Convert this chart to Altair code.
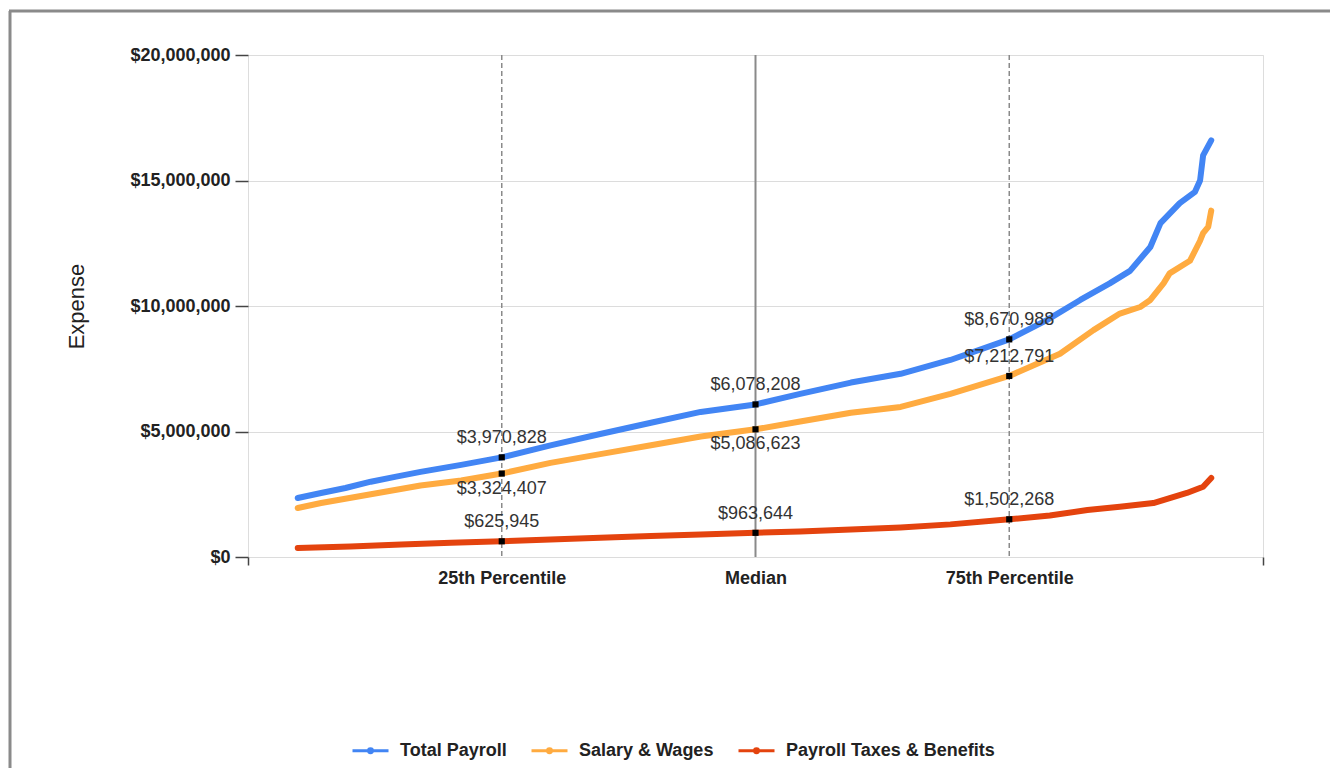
import altair as alt
import pandas as pd

# ---- data ----
series_names = ["Total Payroll", "Salary & Wages", "Payroll Taxes & Benefits"]
series_colors = ["#4285F4", "#FFAB40", "#E4430E"]

total_pct = [4.9, 7.2, 9.6, 12.1, 14.6, 17.0, 21.0, 25.0, 29.8, 34.7, 39.7, 44.6, 50.0,
             54.4, 59.4, 64.3, 69.2, 75.0, 78.7, 82.0, 84.9, 86.9, 88.9, 89.9, 91.8,
             93.3, 93.8, 94.1, 94.9]
total_val = [2350000, 2550000, 2750000, 3000000, 3200000, 3390000, 3670000, 3970828,
             4450000, 4900000, 5350000, 5780000, 6078208, 6500000, 6950000, 7300000,
             7850000, 8670988, 9440000, 10240000, 10900000, 11400000, 12350000,
             13300000, 14100000, 14550000, 15000000, 16000000, 16600000]

salary_pct = [4.9, 7.2, 12.1, 17.0, 21.0, 25.0, 29.8, 34.7, 39.7, 44.6, 50.0, 54.4,
              59.4, 64.3, 69.2, 75.0, 80.0, 83.3, 85.9, 87.9, 88.9, 90.2, 90.8, 92.8,
              93.8, 94.1, 94.6, 94.9]
salary_val = [1950000, 2150000, 2500000, 2850000, 3050000, 3324407, 3750000, 4100000,
              4450000, 4800000, 5086623, 5400000, 5750000, 5980000, 6500000, 7212791,
              8100000, 9040000, 9700000, 9960000, 10240000, 10900000, 11300000,
              11800000, 12600000, 12900000, 13150000, 13800000]

taxes_pct = [4.9, 10.1, 15.1, 20.0, 25.0, 29.8, 34.7, 39.7, 44.6, 50.0, 54.4, 59.4,
             64.3, 69.2, 75.0, 79.0, 82.7, 85.9, 89.2, 92.5, 94.1, 94.9]
taxes_val = [360000, 420000, 500000, 570000, 625945, 700000, 770000, 840000, 900000,
             963644, 1020000, 1100000, 1180000, 1300000, 1502268, 1650000, 1870000,
             2000000, 2150000, 2550000, 2800000, 3150000]

marker_pct = [25, 50, 75]
marker_labels = ["25th Percentile", "Median", "75th Percentile"]

ann_pct = [25, 25, 25, 50, 50, 50, 75, 75, 75]
ann_val = [3970828, 3324407, 625945, 6078208, 5086623, 963644, 8670988, 7212791, 1502268]
ann_pos = ["above", "below", "above", "above", "below", "above", "above", "above", "above"]

y_ticks = [0, 5000000, 10000000, 15000000, 20000000]

# ---- tables ----
rows = []
for name, ps, vs in [(series_names[0], total_pct, total_val),
                     (series_names[1], salary_pct, salary_val),
                     (series_names[2], taxes_pct, taxes_val)]:
    for i, (p, v) in enumerate(zip(ps, vs)):
        rows.append({"series": name, "pct": p, "value": v, "order": i})
lines_df = pd.DataFrame(rows)
ann_df = pd.DataFrame({"pct": ann_pct, "value": ann_val, "pos": ann_pos})
rule_df = pd.DataFrame({"pct": marker_pct, "label": marker_labels})

FONT = "Liberation Sans"
W, H = 1015, 502

label_expr = ("datum.value == 25 ? '25th Percentile' : datum.value == 50 ? 'Median' : "
              "datum.value == 75 ? '75th Percentile' : ''")

x_scale = alt.Scale(domain=[0, 100], nice=False, zero=False)
y_scale = alt.Scale(domain=[0, 20000000], nice=False)

x_axis = alt.Axis(values=[0, 25, 50, 75, 100], labelExpr=label_expr, title=None,
                  grid=False, domain=False, tickSize=8, tickColor="#444", tickWidth=1.5,
                  tickOpacity={"condition": {"test": "datum.value == 0 || datum.value == 100",
                                             "value": 1}, "value": 0},
                  labelFontSize=18, labelFontWeight="bold", labelColor="#222",
                  labelPadding=4, labelFont=FONT, labelOverlap=False, labelFlush=False)
y_axis = alt.Axis(values=y_ticks, format="$,.0f", title="Expense", grid=True,
                  gridColor="#dcdcdc", domain=False, tickSize=13, tickColor="#444",
                  tickWidth=1.5, labelFontSize=18, labelFontWeight="bold",
                  labelColor="#222", labelPadding=5, labelFont=FONT,
                  titleFont=FONT, titleFontSize=22, titleFontWeight="normal",
                  titleColor="#222", titleX=-172, titleY=251, titleAlign="center",
                  titleBaseline="middle")

base_x = alt.X("pct:Q", scale=x_scale, axis=x_axis)
base_y = alt.Y("value:Q", scale=y_scale, axis=y_axis)

dashed = alt.Chart(rule_df).transform_filter("datum.pct != 50").mark_rule(
    color="#8a8a8a", strokeWidth=1.5, strokeDash=[5, 3]).encode(x=alt.X("pct:Q", scale=x_scale))
solid = alt.Chart(rule_df).transform_filter("datum.pct == 50").mark_rule(
    color="#8a8a8a", strokeWidth=2).encode(x=alt.X("pct:Q", scale=x_scale))

lines = alt.Chart(lines_df).mark_line(strokeWidth=6, strokeCap="round",
                                      strokeJoin="round").encode(
    x=base_x, y=base_y,
    color=alt.Color("series:N", scale=alt.Scale(domain=series_names, range=series_colors),
                    sort=series_names,
                    legend=alt.Legend(title=None, orient="none", direction="horizontal",
                                      legendX=103, legendY=676,
                                      symbolType="M-1,0H1M-0.11,0A0.11,0.11,0,1,1,0.11,0A0.11,0.11,0,1,1,-0.11,0",
                                      symbolSize=1296, symbolStrokeWidth=3,
                                      labelFontSize=18, labelFontWeight="bold",
                                      labelColor="#222", labelFont=FONT, labelLimit=0,
                                      labelOffset=10, columnPadding=18)),
    order="order:Q",
    detail="series:N")

points = alt.Chart(ann_df).mark_square(size=38, color="black", opacity=1).encode(
    x=alt.X("pct:Q", scale=x_scale), y=alt.Y("value:Q", scale=y_scale))

text_above = alt.Chart(ann_df).transform_filter("datum.pos == 'above'").mark_text(
    dy=-19, fontSize=18, font=FONT, color="#333", baseline="middle").encode(
    x=alt.X("pct:Q", scale=x_scale), y=alt.Y("value:Q", scale=y_scale),
    text=alt.Text("value:Q", format="$,.0f"))
text_below = alt.Chart(ann_df).transform_filter("datum.pos == 'below'").mark_text(
    dy=15, fontSize=18, font=FONT, color="#333", baseline="middle").encode(
    x=alt.X("pct:Q", scale=x_scale), y=alt.Y("value:Q", scale=y_scale),
    text=alt.Text("value:Q", format="$,.0f"))

frame_left = alt.Chart(alt.Data(values=[{"a": 1}])).mark_rule(
    color="#8a8a8a", strokeWidth=3).encode(
    x=alt.value(-238), y=alt.value(-44), y2=alt.value(760))
frame_top = alt.Chart(alt.Data(values=[{"a": 1}])).mark_rule(
    color="#8a8a8a", strokeWidth=3).encode(
    x=alt.value(-239), x2=alt.value(1200), y=alt.value(-44))

chart = alt.layer(dashed, solid, lines, points, text_above, text_below,
                  frame_left, frame_top).properties(
    width=W, height=H,
    autosize=alt.AutoSizeParams(type="none"),
    padding={"left": 240, "top": 47, "right": 67, "bottom": 211},
    background="white",
).configure_view(stroke="#e0e0e0", strokeWidth=1).configure(font=FONT)

chart.save("out.html", embed_options={"renderer": "svg", "actions": False})
